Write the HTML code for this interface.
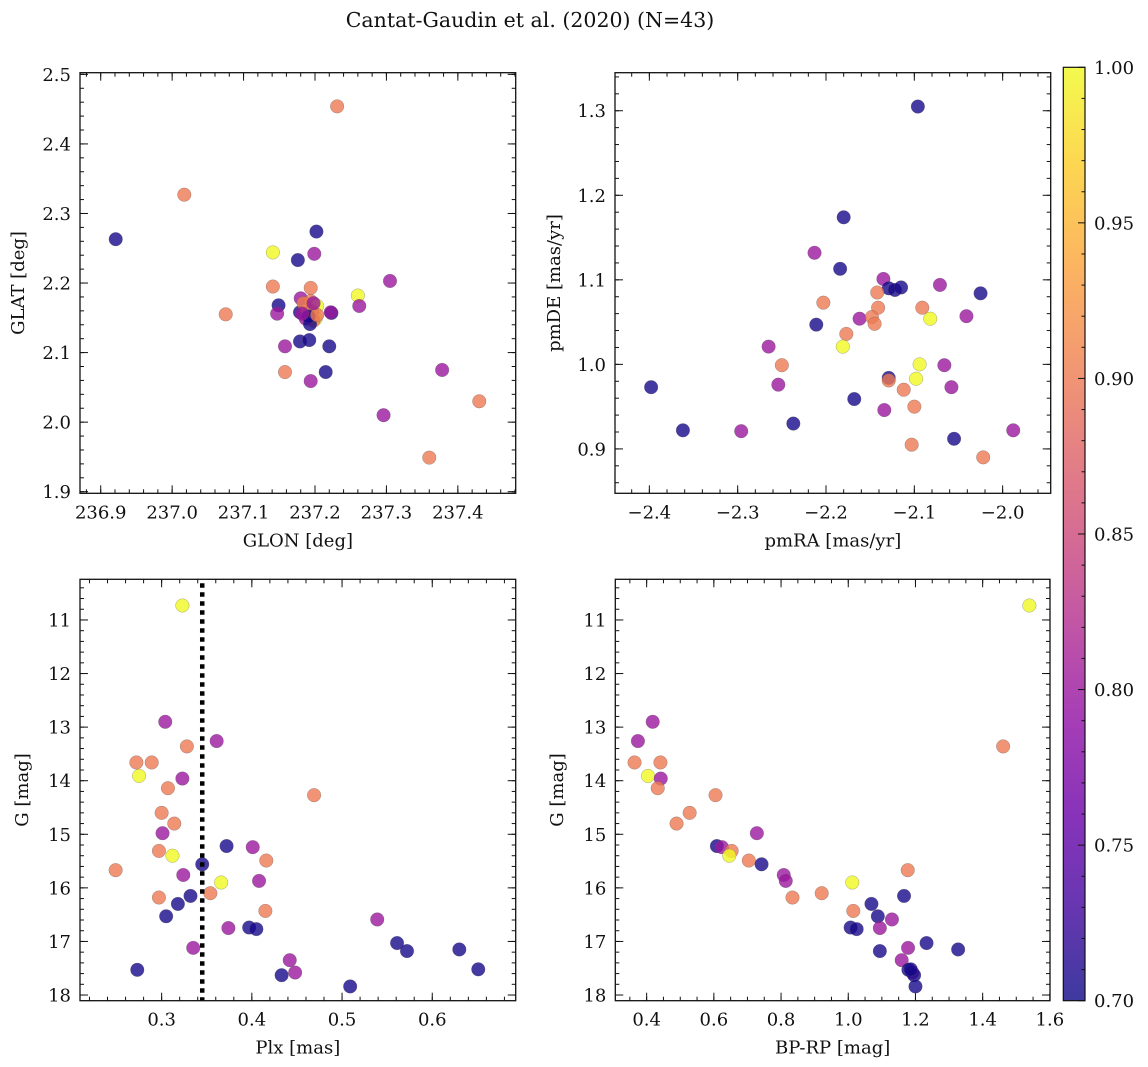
<!DOCTYPE html>
<html><head><meta charset="utf-8">
<style>
html,body{margin:0;padding:0;background:#fff;}
svg{display:block;font-family:"DejaVu Serif","Liberation Serif",serif;}
</style></head>
<body>
<svg id="fig" width="1148" height="1067" viewBox="0 0 1148 1067" xmlns="http://www.w3.org/2000/svg">
<rect width="1148" height="1067" fill="#fff"/>
<text x="530" y="27" font-size="20.5" text-anchor="middle" fill="#111">Cantat-Gaudin et al. (2020) (N=43)</text>
</svg>
<script>
// ---- Panel 1: GLON / GLAT ----
const glon = [237.231,237.017,236.921,237.202,237.141,237.176,237.199,237.305,237.141,237.194,237.260,237.180,237.194,237.149,237.203,237.262,237.147,237.179,237.189,237.223,237.222,237.075,237.201,237.198,237.187,237.193,237.179,237.192,237.220,237.158,237.378,237.158,237.215,237.194,237.430,237.296,237.360,237.184,237.196,237.191,237.203,237.182,237.198];
const glat = [2.454,2.327,2.263,2.274,2.244,2.233,2.242,2.203,2.195,2.193,2.182,2.178,2.174,2.168,2.167,2.167,2.156,2.158,2.161,2.157,2.158,2.155,2.149,2.146,2.149,2.141,2.116,2.118,2.109,2.109,2.075,2.072,2.072,2.059,2.030,2.010,1.949,2.171,2.159,2.152,2.154,2.156,2.171];
const probA = [0.9,0.9,0.705,0.705,1.0,0.705,0.8,0.8,0.9,0.9,1.0,0.8,0.9,0.705,1.0,0.8,0.8,0.705,0.9,0.705,0.8,0.9,1.0,0.9,0.8,0.705,0.705,0.705,0.705,0.8,0.8,0.9,0.705,0.8,0.9,0.8,0.9,0.9,0.9,0.705,0.9,0.8,0.8];
// ---- Panel 2: pmRA / pmDE ----
const pmra = [-2.096,-2.180,-2.213,-2.184,-2.135,-2.129,-2.122,-2.115,-2.071,-2.025,-2.142,-2.203,-2.141,-2.091,-2.162,-2.148,-2.082,-2.041,-2.211,-2.145,-2.177,-2.181,-2.265,-2.250,-2.094,-2.066,-2.254,-2.129,-2.129,-2.098,-2.398,-2.058,-2.112,-2.168,-2.100,-2.134,-2.237,-2.362,-2.296,-1.988,-2.055,-2.103,-2.022];
const pmde = [1.305,1.174,1.132,1.113,1.101,1.090,1.088,1.091,1.094,1.084,1.085,1.073,1.067,1.067,1.054,1.056,1.054,1.057,1.047,1.048,1.036,1.021,1.021,0.999,1.000,0.999,0.976,0.984,0.981,0.983,0.973,0.973,0.970,0.959,0.950,0.946,0.930,0.922,0.921,0.922,0.912,0.905,0.890];
const probB = [0.705,0.705,0.8,0.705,0.8,0.705,0.705,0.705,0.8,0.705,0.9,0.9,0.9,0.9,0.8,0.9,1.0,0.8,0.705,0.9,0.9,1.0,0.8,0.9,1.0,0.8,0.8,0.705,0.9,1.0,0.705,0.8,0.9,0.705,0.9,0.8,0.705,0.705,0.8,0.8,0.705,0.9,0.9];
// ---- Panels 3/4: Plx, BP-RP, G ----
const gmag = [10.73,12.90,13.26,13.36,13.66,13.66,13.91,13.96,14.14,14.27,14.60,14.80,14.98,15.22,15.24,15.31,15.40,15.49,15.56,15.67,15.76,15.87,15.90,16.18,16.15,16.10,16.30,16.43,16.53,16.59,16.75,16.74,16.77,17.03,17.18,17.15,17.12,17.35,17.58,17.53,17.63,17.52,17.84];
const plx = [0.323,0.304,0.361,0.328,0.272,0.289,0.275,0.323,0.307,0.469,0.300,0.314,0.301,0.372,0.401,0.297,0.312,0.416,0.345,0.249,0.324,0.408,0.366,0.297,0.332,0.354,0.318,0.415,0.305,0.539,0.374,0.397,0.405,0.561,0.572,0.630,0.335,0.442,0.448,0.273,0.433,0.651,0.509];
const bprp = [1.539,0.418,0.374,1.461,0.364,0.441,0.404,0.442,0.433,0.605,0.528,0.489,0.728,0.609,0.624,0.653,0.646,0.704,0.742,1.177,0.808,0.814,1.012,0.834,1.166,0.921,1.069,1.015,1.088,1.130,1.094,1.007,1.025,1.233,1.094,1.327,1.178,1.159,1.191,1.179,1.196,1.186,1.200];
const probC = [1.0,0.8,0.8,0.9,0.9,0.9,1.0,0.8,0.9,0.9,0.9,0.9,0.8,0.705,0.8,0.9,1.0,0.9,0.705,0.9,0.8,0.8,1.0,0.9,0.705,0.9,0.705,0.9,0.705,0.8,0.8,0.705,0.705,0.705,0.705,0.705,0.8,0.8,0.8,0.705,0.705,0.705,0.705];
const plxCut = [0.345];
// ---- Tick labels ----
const ticks1x = [236.9,237.0,237.1,237.2,237.3,237.4];
const ticks1y = [1.9,2.0,2.1,2.2,2.3,2.4,2.5];
const ticks2x = [-2.4,-2.3,-2.2,-2.1,-2.0];
const ticks2y = [0.9,1.0,1.1,1.2,1.3];
const ticks3x = [0.3,0.4,0.5,0.6];
const ticksG = [11,12,13,14,15,16,17,18];
const ticks4x = [0.4,0.6,0.8,1.0,1.2,1.4,1.6];
const cbTicks = [0.70,0.75,0.80,0.85,0.90,0.95,1.00];

const FS = 18;
const NS = "http://www.w3.org/2000/svg";
const svg = document.getElementById('fig');
function mk(tag, attrs, parent){const e=document.createElementNS(NS,tag);for(const k in attrs)e.setAttribute(k,attrs[k]);(parent||svg).appendChild(e);return e;}

const stops=[[0,[13,8,135]],[0.1,[65,4,157]],[0.2,[106,0,168]],[0.3,[143,13,164]],[0.4,[177,42,144]],[0.5,[204,71,120]],[0.6,[225,100,98]],[0.7,[242,132,75]],[0.8,[252,166,54]],[0.9,[252,206,37]],[1,[240,249,33]]];
function plasma(t){t=Math.max(0,Math.min(1,t));for(let i=1;i<stops.length;i++){if(t<=stops[i][0]){const a=stops[i-1],b=stops[i];const f=(t-a[0])/(b[0]-a[0]);const c=a[1].map((v,j)=>Math.round(v+(b[1][j]-v)*f));return `rgb(${c[0]},${c[1]},${c[2]})`;}}return 'rgb(240,249,33)';}
function pcol(p){return plasma((p-0.7)/0.3);}
function fmt(v,d){return (v<0?'\u2212':'')+Math.abs(v).toFixed(d);}

function panel(cfg){
  const {name,x0,x1,y0,y1,xd,yd,xt,yt,xmin,ymin,xdec,ydec,xlab,ylab,ylabX}=cfg;
  const g=mk('g',{});
  
  
  const sx=v=>x0+(v-xd[0])/(xd[1]-xd[0])*(x1-x0);
  const sy=v=>y1-(v-yd[0])/(yd[1]-yd[0])*(y1-y0);
  const tg=mk('g',{stroke:'#111','stroke-width':1},g);
  
  
  const eps=1e-9;
  for(let v=Math.ceil(xd[0]/xmin-eps)*xmin; v<=xd[1]+eps; v+=xmin){const x=sx(v);mk('line',{x1:x,x2:x,y1:y1,y2:y1-4},tg);mk('line',{x1:x,x2:x,y1:y0,y2:y0+4},tg);}
  for(let v=Math.ceil(yd[0]/ymin-eps)*ymin; v<=yd[1]+eps; v+=ymin){const y=sy(v);mk('line',{x1:x0,x2:x0+4,y1:y,y2:y},tg);mk('line',{x1:x1,x2:x1-4,y1:y,y2:y},tg);}
  xt.forEach(v=>{const x=sx(v);mk('line',{x1:x,x2:x,y1:y1,y2:y1-8},tg);mk('line',{x1:x,x2:x,y1:y0,y2:y0+8},tg);
    const t=mk('text',{x:x,y:y1+25,'font-size':FS,'text-anchor':'middle',fill:'#111'},g);t.textContent=fmt(v,xdec);
    
    });
  yt.forEach(v=>{const y=sy(v);mk('line',{x1:x0,x2:x0+8,y1:y,y2:y},tg);mk('line',{x1:x1,x2:x1-8,y1:y,y2:y},tg);
    const t=mk('text',{x:x0-9,y:y+6.5,'font-size':FS,'text-anchor':'end',fill:'#111'},g);t.textContent=fmt(v,ydec);
    
    });
  const xl=mk('text',{x:(x0+x1)/2,y:y1+53,'font-size':FS,'text-anchor':'middle',fill:'#111'},g);xl.textContent=xlab;
  
  
  const yl=mk('text',{x:0,y:0,'font-size':FS,'text-anchor':'middle',fill:'#111',transform:`translate(${ylabX},${(y0+y1)/2}) rotate(-90)`},g);yl.textContent=ylab;
  
  
  return {g,sx,sy,x0,x1,y0,y1};
}
function frame(p){const r=mk('rect',{x:p.x0,y:p.y0,width:p.x1-p.x0,height:p.y1-p.y0,fill:'none',stroke:'#111','stroke-width':1.3},p.g);
  
  }
function scatter(p,xs,ys,ps){
  const cg=mk('g',{},p.g);
  
  
  xs.forEach((v,i)=>{const c=mk('circle',{cx:p.sx(v),cy:p.sy(ys[i]),r:6.8,fill:pcol(ps[i]),'fill-opacity':0.8,stroke:'#555','stroke-opacity':0.5,'stroke-width':0.5},cg);
    
    });
}

const p1=panel({name:'panel-glon-glat',x0:80,x1:515.7,y0:72.7,y1:493.3,xd:[236.871,237.481],yd:[1.8977,2.5024],xt:ticks1x,yt:ticks1y,xmin:0.02,ymin:0.02,xdec:1,ydec:1,xlab:'GLON [deg]',ylab:'GLAT [deg]',ylabX:24});
scatter(p1,glon,glat,probA);frame(p1);
const p2=panel({name:'panel-pm',x0:615,x1:1050.7,y0:72.7,y1:493.3,xd:[-2.4389,-1.9456],yd:[0.8475,1.345],xt:ticks2x,yt:ticks2y,xmin:0.02,ymin:0.02,xdec:1,ydec:1,xlab:'pmRA [mas/yr]',ylab:'pmDE [mas/yr]',ylabX:560});
scatter(p2,pmra,pmde,probB);frame(p2);
const p3=panel({name:'panel-plx-g',x0:80,x1:515.7,y0:579.3,y1:1000.7,xd:[0.2095,0.6925],yd:[-18.106,-10.241],xt:ticks3x,yt:[],xmin:0.02,ymin:0.2,xdec:1,ydec:0,xlab:'Plx [mas]',ylab:'G [mag]',ylabX:28});
const p4=panel({name:'panel-cmd',x0:615.3,x1:1050,y0:579.3,y1:1000.7,xd:[0.3067,1.6004],yd:[-18.106,-10.241],xt:ticks4x,yt:[],xmin:0.05,ymin:0.2,xdec:1,ydec:0,xlab:'BP-RP [mag]',ylab:'G [mag]',ylabX:563});
[p3,p4].forEach(p=>{ticksG.forEach(v=>{const y=p.sy(-v);
  mk('line',{x1:p.x0,x2:p.x0+8,y1:y,y2:y,stroke:'#111'},p.g);mk('line',{x1:p.x1,x2:p.x1-8,y1:y,y2:y,stroke:'#111'},p.g);
  const t=mk('text',{x:p.x0-9,y:y+6.5,'font-size':FS,'text-anchor':'end',fill:'#111'},p.g);t.textContent=String(v);
  
  });});
const negG=gmag.map(v=>-v);
scatter(p3,plx,negG,probC);
const cut=mk('line',{x1:p3.sx(plxCut[0]),x2:p3.sx(plxCut[0]),y1:p3.y0+4,y2:p3.y1,stroke:'#000','stroke-width':4.5,'stroke-dasharray':'4.5 4.5'},p3.g);


frame(p3);
scatter(p4,bprp,negG,probC);frame(p4);

// ---- colorbar ----
const cb=mk('g',{});


const defs=mk('defs',{},svg);
const lg=mk('linearGradient',{id:'cbg',x1:0,y1:1,x2:0,y2:0},defs);
for(let i=0;i<=20;i++){mk('stop',{offset:i/20,'stop-color':plasma(i/20),'stop-opacity':0.8},lg);}
const cbx0=1063.3,cbx1=1085,cby0=67.3,cby1=1000.7;
mk('rect',{x:cbx0,y:cby0,width:cbx1-cbx0,height:cby1-cby0,fill:'url(#cbg)',stroke:'#111','stroke-width':1.2},cb);
const cy=v=>cby1-(v-0.7)/0.3*(cby1-cby0);
for(let k=0;k<=30;k++){const v=0.7+k*0.01;const y=cy(v);const major=(k%5===0);
  mk('line',{x1:cbx1,x2:cbx1-(major?7:3.5),y1:y,y2:y,stroke:'#111'},cb);}
cbTicks.forEach(v=>{const t=mk('text',{x:cbx1+9,y:cy(v)+6.5,'font-size':FS,fill:'#111'},cb);t.textContent=v.toFixed(2);
  
  });
</script>
</body></html>
